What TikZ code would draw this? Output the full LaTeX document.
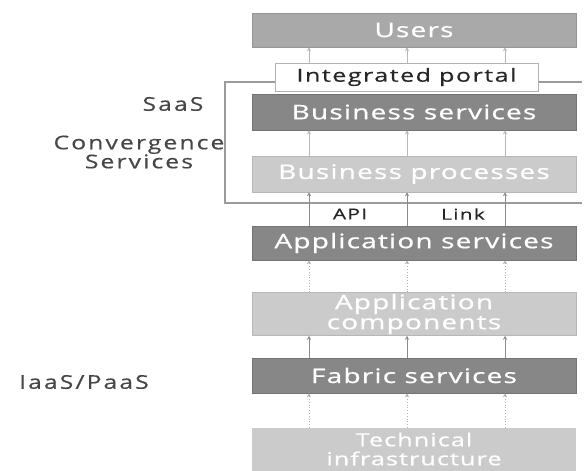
\documentclass[tikz,border=0pt]{standalone}
\usepackage{fontspec}
\usetikzlibrary{arrows.meta}
\setmainfont{Open Sans}
\newfontfamily\boxfont[FakeStretch=1.4,LetterSpace=6,FakeBold=0.8]{Open Sans}
\newfontfamily\portalfont[FakeStretch=1.4,LetterSpace=8,FakeBold=0.5]{Open Sans}
\newfontfamily\labfont[FakeStretch=1.3,LetterSpace=11,FakeBold=0.5]{Open Sans}
\definecolor{dkbox}{HTML}{878787}
\definecolor{mdbox}{HTML}{A9A9A9}
\definecolor{ltbox}{HTML}{CBCBCB}
\definecolor{labtext}{HTML}{474747}
\definecolor{framecol}{HTML}{9C9C9C}
\tikzset{
  layer/.style={minimum width=324pt, inner sep=0pt, align=center,
    text=white, font=\boxfont\fontsize{20}{20}\selectfont},
  darklayer/.style={layer, fill=dkbox, draw=dkbox!85!black, line width=0.5pt},
  midlayer/.style={layer, fill=mdbox, draw=mdbox!88!black, line width=0.5pt},
  lightlayer/.style={layer, fill=ltbox, draw=ltbox!90!black, line width=0.5pt},
  sidelabel/.style={text=labtext, font=\labfont\fontsize{19}{19}\selectfont, align=center, inner sep=0pt},
  uparrow/.style={-{Stealth[length=4pt,width=4pt]}, line width=0.8pt},
  solidarrow/.style={uparrow, draw=black!45},
  faintarrow/.style={uparrow, draw=black!28},
  dotarrow/.style={uparrow, draw=black!30, dotted},
  ifacelabel/.style={text=black!85, font=\portalfont\fontsize{15}{15}\selectfont, inner sep=0pt},
}
\begin{document}
\begin{tikzpicture}[x=1pt,y=-1pt]
\useasboundingbox (0,0) rectangle (584,471);
\begin{scope}
\clip (0,0) rectangle (584,471);

% columns of the connecting arrows
\coordinate (c1) at (309,0);
\coordinate (c2) at (407,0);
\coordinate (c3) at (505,0);

% bracket round the converged services
\coordinate (ftl) at (225,82);
\coordinate (ftr) at (582,82);
\coordinate (fbl) at (225,203);
\coordinate (fbr) at (582,203);
\draw[framecol, line width=1.1pt] (ftr) -- (ftl) -- (fbl) -- (fbr);

% the lowest layer runs on past the bottom edge
\fill[ltbox] (252,460) rectangle (576,480);

% layers
\node[midlayer, minimum height=34pt] (users) at (414,30) {Users};
\node[darklayer, minimum height=36pt] (bsvc) at (414,112) {Business services};
\node[lightlayer, minimum height=36pt] (bproc) at (414,174) {Business processes};
\node[darklayer, minimum height=34pt] (appsvc) at (414,243) {Application services};
\node[lightlayer, minimum height=43pt] (appcomp) at (414,314) {Application\\components};
\node[darklayer, minimum height=35pt] (fabric) at (414,375.5) {Fabric services};
\node[lightlayer, draw=none, minimum height=42pt, font=\boxfont\fontsize{18}{19}\selectfont]
      (tech) at (414,449) {Technical\\infrastructure};

% portal
\node[fill=white, draw=black!30, line width=0.6pt, minimum width=263pt, minimum height=28pt,
      inner sep=0pt, text=black!85, font=\portalfont\fontsize{18}{18}\selectfont]
      (portal) at (406.5,77) {Integrated portal};

% connectors
\foreach \c in {c1,c2,c3}{
  \draw[faintarrow] (portal.north -| \c) -- (users.south -| \c);
  \draw[faintarrow] (bproc.north -| \c) -- (bsvc.south -| \c);
  \draw[solidarrow] (appsvc.north -| \c) -- (bproc.south -| \c);
  \draw[dotarrow] (appcomp.north -| \c) -- (appsvc.south -| \c);
  \draw[solidarrow] (fabric.north -| \c) -- (appcomp.south -| \c);
  \draw[dotarrow] (tech.north -| \c) -- (fabric.south -| \c);
}

% interface labels
\node[ifacelabel] (api) at (350,214) {API};
\node[ifacelabel] (link) at (463,214) {Link};

% service model labels
\node[sidelabel] (saas) at (173,104) {SaaS};
\node[sidelabel] (conv) at (139,152) {Convergence\\Services};
\node[sidelabel] (iaas) at (84,382) {IaaS/PaaS};
\end{scope}
\end{tikzpicture}
\end{document}
